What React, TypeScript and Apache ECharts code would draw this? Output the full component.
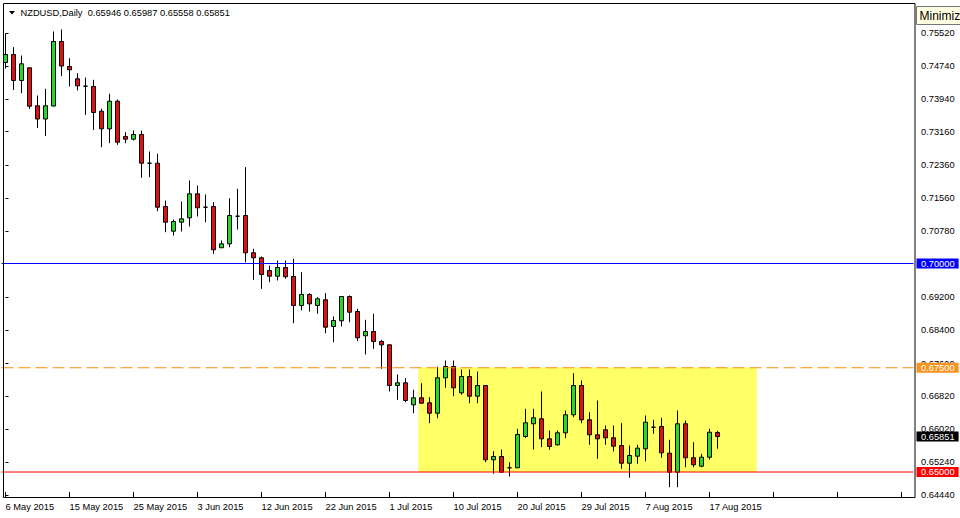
import React, { useEffect, useRef } from 'react';
import * as echarts from 'echarts';

const symbol = 'NZDUSD';
const period = 'Daily';

const dates = [
  '6 May 2015', '7 May 2015', '8 May 2015', '10 May 2015', '11 May 2015', '12 May 2015', '13 May 2015', '14 May 2015', '15 May 2015',
  '17 May 2015', '18 May 2015', '19 May 2015', '20 May 2015', '21 May 2015', '22 May 2015', '24 May 2015', '25 May 2015',
  '26 May 2015', '27 May 2015', '28 May 2015', '29 May 2015', '31 May 2015', '1 Jun 2015', '2 Jun 2015', '3 Jun 2015',
  '4 Jun 2015', '5 Jun 2015', '7 Jun 2015', '8 Jun 2015', '9 Jun 2015', '10 Jun 2015', '11 Jun 2015', '12 Jun 2015',
  '14 Jun 2015', '15 Jun 2015', '16 Jun 2015', '17 Jun 2015', '18 Jun 2015', '19 Jun 2015', '21 Jun 2015', '22 Jun 2015',
  '23 Jun 2015', '24 Jun 2015', '25 Jun 2015', '26 Jun 2015', '28 Jun 2015', '29 Jun 2015', '30 Jun 2015', '1 Jul 2015',
  '2 Jul 2015', '3 Jul 2015', '5 Jul 2015', '6 Jul 2015', '7 Jul 2015', '8 Jul 2015', '9 Jul 2015', '10 Jul 2015',
  '12 Jul 2015', '13 Jul 2015', '14 Jul 2015', '15 Jul 2015', '16 Jul 2015', '17 Jul 2015', '19 Jul 2015', '20 Jul 2015',
  '21 Jul 2015', '22 Jul 2015', '23 Jul 2015', '24 Jul 2015', '26 Jul 2015', '27 Jul 2015', '28 Jul 2015', '29 Jul 2015',
  '30 Jul 2015', '31 Jul 2015', '2 Aug 2015', '3 Aug 2015', '4 Aug 2015', '5 Aug 2015', '6 Aug 2015', '7 Aug 2015',
  '9 Aug 2015', '10 Aug 2015', '11 Aug 2015', '12 Aug 2015', '13 Aug 2015', '14 Aug 2015', '16 Aug 2015', '17 Aug 2015',
  '18 Aug 2015',
];

const opens = [
  0.74820, 0.75012, 0.74389, 0.74693, 0.73782, 0.73465, 0.73777, 0.75324, 0.74724, 0.74429,
  0.74252, 0.74245, 0.73652, 0.73230, 0.73892, 0.73046, 0.72981, 0.73094, 0.72405, 0.72405,
  0.71367, 0.70775, 0.70990, 0.71096, 0.71671, 0.71350, 0.71367, 0.70377, 0.70472, 0.71134,
  0.71151, 0.70257, 0.70137, 0.69832, 0.69695, 0.69904, 0.69688, 0.68993, 0.69257, 0.68993,
  0.69130, 0.68489, 0.68626, 0.69209, 0.68849, 0.68266, 0.68369, 0.68130, 0.68050, 0.67074,
  0.67139, 0.66611, 0.66779, 0.66659, 0.66410, 0.67259, 0.67530, 0.66899, 0.67290, 0.66818,
  0.67074, 0.65293, 0.65372, 0.65101, 0.65101, 0.65851, 0.66156, 0.66276, 0.65796, 0.65652,
  0.65940, 0.66372, 0.67074, 0.66252, 0.65892, 0.66012, 0.65820, 0.65635, 0.65211, 0.65379,
  0.65556, 0.66074, 0.66091, 0.65451, 0.64995, 0.66156, 0.65341, 0.65139, 0.65355, 0.65946,
];
const highs = [
  0.75516, 0.75187, 0.74988, 0.74700, 0.74029, 0.74190, 0.75564, 0.75612, 0.74923, 0.74564,
  0.74460, 0.74405, 0.73710, 0.74070, 0.73933, 0.73149, 0.73189, 0.73189, 0.72686, 0.72631,
  0.71511, 0.71055, 0.71487, 0.71990, 0.71871, 0.71655, 0.71470, 0.70552, 0.71566, 0.71791,
  0.72309, 0.70353, 0.70168, 0.69952, 0.70072, 0.70072, 0.70113, 0.69791, 0.69288, 0.69192,
  0.69288, 0.68729, 0.69221, 0.69233, 0.68914, 0.68650, 0.68794, 0.68170, 0.68058, 0.67338,
  0.67249, 0.66971, 0.67129, 0.66794, 0.67530, 0.67674, 0.67674, 0.67458, 0.67458, 0.67410,
  0.67086, 0.65499, 0.65539, 0.65235, 0.66036, 0.66516, 0.66516, 0.66930, 0.65995, 0.65995,
  0.66475, 0.67369, 0.67194, 0.66434, 0.66715, 0.66115, 0.66115, 0.66170, 0.65635, 0.65652,
  0.66355, 0.66252, 0.66300, 0.65772, 0.66475, 0.66235, 0.65715, 0.65436, 0.66036, 0.65987,
];
const lows = [
  0.74676, 0.74161, 0.74084, 0.73710, 0.73249, 0.73058, 0.73765, 0.74492, 0.74245, 0.74149,
  0.73566, 0.73201, 0.72789, 0.72885, 0.72847, 0.72885, 0.72950, 0.72055, 0.72070, 0.71254,
  0.70751, 0.70671, 0.70767, 0.70887, 0.71127, 0.70990, 0.70233, 0.70372, 0.70391, 0.70815,
  0.70031, 0.69609, 0.69393, 0.69552, 0.69592, 0.69633, 0.68568, 0.68873, 0.68849, 0.68794,
  0.68329, 0.68113, 0.68489, 0.68592, 0.68137, 0.67818, 0.67954, 0.67475, 0.66930, 0.66731,
  0.66674, 0.66410, 0.66635, 0.66170, 0.66290, 0.67019, 0.66818, 0.66851, 0.66650, 0.66650,
  0.65235, 0.64957, 0.64988, 0.64892, 0.65096, 0.65820, 0.65539, 0.65595, 0.65532, 0.65635,
  0.65811, 0.66314, 0.66170, 0.65652, 0.65317, 0.65652, 0.65492, 0.65077, 0.64861, 0.65197,
  0.65259, 0.65916, 0.65341, 0.64635, 0.64635, 0.65115, 0.65115, 0.65115, 0.65300, 0.65558,
];
const closes = [
  0.75012, 0.74389, 0.74789, 0.73772, 0.73465, 0.73782, 0.75324, 0.74736, 0.74645, 0.74261,
  0.74252, 0.73621, 0.73230, 0.73892, 0.72909, 0.72981, 0.73094, 0.72405, 0.72405, 0.71350,
  0.70990, 0.71007, 0.71072, 0.71671, 0.71336, 0.71350, 0.70329, 0.70472, 0.71151, 0.71134,
  0.70257, 0.70137, 0.69736, 0.69695, 0.69904, 0.69681, 0.68993, 0.69257, 0.69034, 0.69153,
  0.68472, 0.68633, 0.69209, 0.68832, 0.68218, 0.68369, 0.68130, 0.68050, 0.67074, 0.67139,
  0.66715, 0.66779, 0.66650, 0.66410, 0.67259, 0.67530, 0.67019, 0.67290, 0.66818, 0.67074,
  0.65293, 0.65372, 0.64995, 0.65101, 0.65899, 0.66180, 0.66300, 0.65796, 0.65612, 0.65940,
  0.66372, 0.67074, 0.66252, 0.65892, 0.65796, 0.65820, 0.65619, 0.65211, 0.65396, 0.65571,
  0.66194, 0.66074, 0.65460, 0.64995, 0.66156, 0.65341, 0.65173, 0.65355, 0.65954, 0.65851,
];

const priceTicks = [
  0.7552, 0.7474, 0.7394, 0.7316, 0.7236, 0.7156, 0.7078, 0.7, 0.692, 0.684, 0.676, 0.6682, 0.6602, 0.6524, 0.6444,
];

const blueLevel = 0.7;
const orangeLevel = 0.675;
const redLevel = 0.65;
const boxBars = [51.6, 93.9];
const boxPrices = [0.675, 0.65];

const TOTAL_SLOTS = 114;
const Y_MAX = 0.76223;
const Y_MIN = 0.644005;

export default function App() {
  const ref = useRef<HTMLDivElement>(null);
  useEffect(() => {
    if (!ref.current) return;
    const chart = echarts.init(ref.current, null, { renderer: 'svg' });
    const cats = [...dates, ...Array(TOTAL_SLOTS - dates.length).fill('')];
    const candles = dates.map((_, i) => [opens[i], closes[i], lows[i], highs[i]]);
    const FONT = '"Liberation Sans", Arial, sans-serif';
    const FS = 9.3;
    const fmt = (v: number) => v.toFixed(5);
    const li = dates.length - 1;
    const lastClose = closes[li];
    const header = `${symbol},${period}  ${fmt(opens[li])} ${fmt(highs[li])} ${fmt(lows[li])} ${fmt(closes[li])}`;
    const xEnds = [-0.5, TOTAL_SLOTS - 0.5];
    const levelLine = (level: number, color: string, type: any, labelBg: string, visible: boolean) => ({
      type: 'line',
      xAxisIndex: 1,
      yAxisIndex: 0,
      data: xEnds.map((x) => [x, level]),
      symbol: 'none',
      silent: true,
      clip: false,
      z: 4,
      color,
      lineStyle: visible ? { color, width: 1, type } : { color: 'rgba(0,0,0,0)', width: 0 },
      endLabel: {
        show: true,
        distance: 3,
        color: '#fff',
        fontSize: FS,
        fontFamily: FONT,
        backgroundColor: labelBg,
        padding: [1, 4, 0, 4.5],
        lineHeight: 9,
        formatter: () => fmt(level),
      },
    });
    chart.setOption({
      animation: false,
      backgroundColor: '#ffffff',
      grid: { left: 1.5, top: 4, width: 912, height: 493, containLabel: false },
      xAxis: [
        {
          type: 'category',
          data: cats,
          boundaryGap: true,
          axisLine: { show: false },
          axisTick: { show: true, inside: true, length: 5, alignWithLabel: true, interval: 7, lineStyle: { color: '#000' } },
          axisLabel: { interval: 7, align: 'left', color: '#000', fontSize: FS, fontFamily: FONT, margin: 5 },
          splitLine: { show: false },
        },
        {
          type: 'value',
          min: -0.5,
          max: TOTAL_SLOTS - 0.5,
          show: false,
        },
      ],
      yAxis: {
        type: 'value',
        position: 'right',
        min: Y_MIN,
        max: Y_MAX,
        offset: 1.5,
        axisLine: { show: false },
        splitLine: { show: false },
        axisTick: { show: true, customValues: priceTicks, length: 3, lineStyle: { color: '#000' } },
        axisLabel: {
          customValues: priceTicks,
          formatter: (v: number) => fmt(v),
          color: '#000',
          fontSize: FS,
          fontFamily: FONT,
          margin: 6,
        },
      },
      series: [
        {
          type: 'line',
          xAxisIndex: 1,
          yAxisIndex: 0,
          data: [],
          silent: true,
          z: 1,
          markArea: {
            silent: true,
            itemStyle: { color: '#FFFF66' },
            data: [[{ xAxis: boxBars[0], yAxis: boxPrices[0] }, { xAxis: boxBars[1], yAxis: boxPrices[1] }]],
          },
        },
        {
          type: 'candlestick',
          xAxisIndex: 0,
          yAxisIndex: 0,
          data: candles,
          barWidth: 4,
          z: 3,
          itemStyle: {
            color: '#2AD62A',
            color0: '#E01010',
            borderColor: '#000',
            borderColor0: '#000',
            borderColorDoji: '#000',
            borderWidth: 1,
          },
        },
        levelLine(blueLevel, '#0000FF', 'solid', '#0000FF', true),
        levelLine(orangeLevel, '#FF8C00', [12, 5], '#F7931E', true),
        levelLine(redLevel, '#FF0000', 'solid', '#FF0000', true),
        levelLine(lastClose, '#000000', 'solid', '#000000', false),
      ],
      graphic: [
        {
          type: 'rect',
          silent: true,
          z: 10,
          shape: { x: 3.5, y: 3.5, width: 911.5, height: 494 },
          style: { fill: 'none', stroke: '#000', lineWidth: 1 },
        },
        {
          type: 'polygon',
          silent: true,
          z: 10,
          shape: { points: [[9, 11], [15, 11], [12, 14.5]] },
          style: { fill: '#000' },
        },
        {
          type: 'text',
          silent: true,
          z: 10,
          x: 20.5,
          y: 13,
          style: { text: header, fill: '#000', fontSize: FS, fontFamily: FONT, verticalAlign: 'middle', align: 'left' },
        },
        {
          type: 'rect',
          silent: true,
          z: 20,
          shape: { x: 916.5, y: 6.5, width: 50, height: 18 },
          style: { fill: '#FFFFE1', stroke: '#767676', lineWidth: 1 },
        },
        {
          type: 'text',
          silent: true,
          z: 21,
          x: 919.5,
          y: 16,
          style: { text: 'Minimiz', fill: '#000', fontSize: 12, fontFamily: FONT, verticalAlign: 'middle', align: 'left' },
        },
      ],
    });
    return () => chart.dispose();
  }, []);
  return <div ref={ref} style={{ position: 'fixed', left: 0, top: 0, width: 960, height: 518, background: '#fff' }} />;
}
